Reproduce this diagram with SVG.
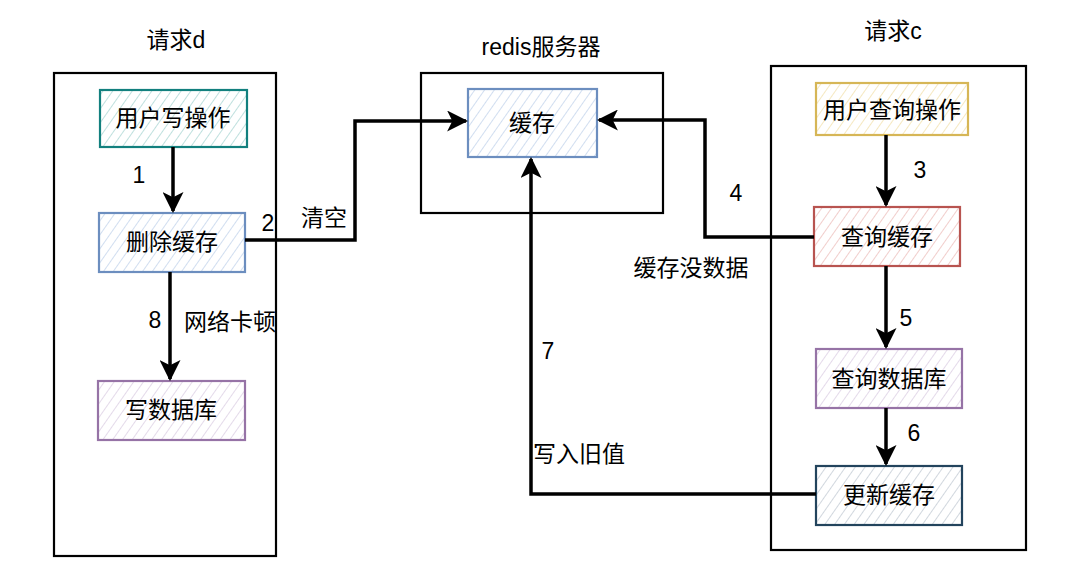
<svg xmlns="http://www.w3.org/2000/svg" width="1074" height="576" viewBox="0 0 1074 576">
<defs>
<style>
text{font-family:"Liberation Sans","Noto Sans CJK SC",sans-serif;font-size:23px;fill:#000}
.c{text-anchor:middle;dominant-baseline:central}
.cont{fill:#fff;stroke:#000;stroke-width:2.2}
.node{stroke-width:2.2}
.edge{fill:none;stroke:#000;stroke-width:3.5}
</style>
<pattern id="hTeal" width="8" height="8" patternUnits="userSpaceOnUse" patternTransform="rotate(35)"><rect width="8" height="8" fill="#fff"/><line x1="0" y1="0" x2="0" y2="8" stroke="#9ccfcc" stroke-width="1.3"/></pattern>
<pattern id="hBlue" width="8" height="8" patternUnits="userSpaceOnUse" patternTransform="rotate(35)"><rect width="8" height="8" fill="#fff"/><line x1="0" y1="0" x2="0" y2="8" stroke="#b9cde8" stroke-width="1.3"/></pattern>
<pattern id="hPurple" width="8" height="8" patternUnits="userSpaceOnUse" patternTransform="rotate(35)"><rect width="8" height="8" fill="#fff"/><line x1="0" y1="0" x2="0" y2="8" stroke="#d6c6df" stroke-width="1.3"/></pattern>
<pattern id="hYellow" width="8" height="8" patternUnits="userSpaceOnUse" patternTransform="rotate(35)"><rect width="8" height="8" fill="#fff"/><line x1="0" y1="0" x2="0" y2="8" stroke="#f0dca0" stroke-width="1.3"/></pattern>
<pattern id="hRed" width="8" height="8" patternUnits="userSpaceOnUse" patternTransform="rotate(35)"><rect width="8" height="8" fill="#fff"/><line x1="0" y1="0" x2="0" y2="8" stroke="#eab3b0" stroke-width="1.3"/></pattern>
<pattern id="hDark" width="8" height="8" patternUnits="userSpaceOnUse" patternTransform="rotate(35)"><rect width="8" height="8" fill="#fff"/><line x1="0" y1="0" x2="0" y2="8" stroke="#b8c2cc" stroke-width="1.3"/></pattern>
<marker id="arr" viewBox="0 0 10 10" refX="9" refY="5" markerWidth="6" markerHeight="6" orient="auto" markerUnits="strokeWidth"><path d="M0,0 L10,5 L0,10 L2.5,5 z" fill="#000"/></marker>
</defs>

<g id="containers">
<g id="reqD"><rect class="cont" x="54" y="73" width="222" height="483"/><text class="c" x="176" y="40">请求d</text></g>
<g id="redis"><rect class="cont" x="421" y="73" width="242" height="140"/><text class="c" x="541" y="47">redis服务器</text></g>
<g id="reqC"><rect class="cont" x="771" y="66" width="255" height="484"/><text class="c" x="893" y="31">请求c</text></g>
</g>

<g id="nodes">
<g id="n-userWrite"><rect class="node" x="100" y="90" width="147" height="57" fill="url(#hTeal)" stroke="#12807e"/><text class="c" x="173" y="118">用户写操作</text></g>
<g id="n-delCache"><rect class="node" x="99" y="213" width="146" height="59" fill="url(#hBlue)" stroke="#6c8ebf"/><text class="c" x="172" y="242">删除缓存</text></g>
<g id="n-writeDb"><rect class="node" x="98" y="381" width="147" height="59" fill="url(#hPurple)" stroke="#9673a6"/><text class="c" x="171" y="410">写数据库</text></g>
<g id="n-cache"><rect class="node" x="468" y="89" width="129" height="68" fill="url(#hBlue)" stroke="#6c8ebf"/><text class="c" x="532" y="123">缓存</text></g>
<g id="n-userQuery"><rect class="node" x="816" y="83" width="152" height="52" fill="url(#hYellow)" stroke="#d6b656"/><text class="c" x="892" y="110">用户查询操作</text></g>
<g id="n-queryCache"><rect class="node" x="814" y="207" width="146" height="59" fill="url(#hRed)" stroke="#b85450"/><text class="c" x="887" y="237">查询缓存</text></g>
<g id="n-queryDb"><rect class="node" x="816" y="349" width="146" height="59" fill="url(#hPurple)" stroke="#9673a6"/><text class="c" x="889" y="379">查询数据库</text></g>
<g id="n-updateCache"><rect class="node" x="816" y="466" width="146" height="59" fill="url(#hDark)" stroke="#23445d"/><text class="c" x="889" y="495">更新缓存</text></g>
</g>

<g id="connectors">
<path class="edge" d="M173,147 L173,211" marker-end="url(#arr)"/>
<path class="edge" d="M170,272 L170,379" marker-end="url(#arr)"/>
<path class="edge" d="M245,240 L355,240 L355,121 L466,121" marker-end="url(#arr)"/>
<path class="edge" d="M886,135 L886,205" marker-end="url(#arr)"/>
<path class="edge" d="M814,237 L705,237 L705,120 L599,120" marker-end="url(#arr)"/>
<path class="edge" d="M886,266 L886,347" marker-end="url(#arr)"/>
<path class="edge" d="M886,408 L886,464" marker-end="url(#arr)"/>
<path class="edge" d="M816,494 L531,494 L531,159" marker-end="url(#arr)"/>
</g>

<g id="labels">
<text class="c" x="139" y="175">1</text>
<text class="c" x="268" y="223">2</text>
<text class="c" x="324" y="218">清空</text>
<text class="c" x="920" y="170">3</text>
<text class="c" x="736" y="193">4</text>
<text class="c" x="691" y="268">缓存没数据</text>
<text class="c" x="906" y="318">5</text>
<text class="c" x="914" y="433">6</text>
<text class="c" x="548" y="351">7</text>
<text class="c" x="579" y="454">写入旧值</text>
<text class="c" x="155" y="320">8</text>
<text class="c" x="230" y="322">网络卡顿</text>
</g>
</svg>
